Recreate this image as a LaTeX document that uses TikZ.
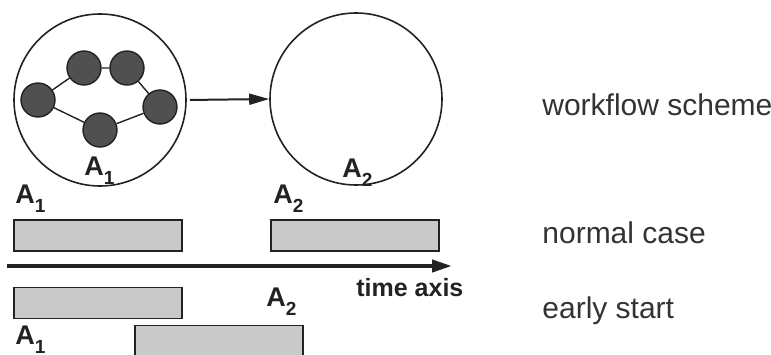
\documentclass[tikz,border=0pt]{standalone}
\usepackage{fontspec}
\setmainfont{Liberation Sans}
\usepackage{tikz}
\usetikzlibrary{arrows.meta,positioning}
\definecolor{ink}{HTML}{222222}
\definecolor{txt}{HTML}{333333}
\definecolor{blob}{HTML}{505050}
\definecolor{barfill}{HTML}{C9C9C9}
\newcommand{\actsub}[1]{\raisebox{-4.5pt}{\fontsize{9.5}{10}\selectfont #1}}
\tikzset{
  scheme/.style={circle, draw=ink, line width=0.8pt, minimum size=86pt,
    inner sep=0pt},
  step node/.style={circle, draw=ink, fill=blob, line width=0.7pt,
    minimum size=17pt, inner sep=0pt},
  link/.style={draw=ink, line width=0.7pt},
  taskbar/.style={rectangle, draw=ink, fill=barfill, line width=0.8pt,
    minimum width=84pt, minimum height=15.5pt, inner sep=0pt},
  actlabel/.style={anchor=base west, inner sep=0pt, text=ink,
    font=\fontsize{13.5}{15}\selectfont\bfseries},
  axislabel/.style={anchor=base west, inner sep=0pt, text=ink,
    font=\fontsize{12.5}{14}\selectfont\bfseries},
  caselabel/.style={anchor=base west, inner sep=0pt, text=txt,
    font=\fontsize{15}{17}\selectfont},
  flowarrow/.style={-{Triangle[length=10pt,width=5.5pt]}, line width=1pt,
    color=ink},
  timearrow/.style={-{Triangle[length=10pt,width=6pt]}, line width=2pt,
    color=ink},
}
\begin{document}
\begin{tikzpicture}[x=0.5pt, y=-0.5pt]
  \useasboundingbox (0,0) rectangle (771,354);
  \clip (0,0) rectangle (771,354);
  % workflow scheme
  \node[scheme] (wf1) at (100,100) {};
  \node[scheme] (wf2) at (356,99) {};
  \draw[flowarrow, shorten <=1.5pt] (wf1.east) -- (wf2.west);
  \node[step node] (s1) at (38,100) {};
  \node[step node] (s2) at (84,68) {};
  \node[step node] (s3) at (127,68) {};
  \node[step node] (s4) at (160,107) {};
  \node[step node] (s5) at (100,130) {};
  \draw[link] (s1) -- (s2) (s2) -- (s3) (s3) -- (s4) (s4) -- (s5) (s5) -- (s1);
  \node[actlabel] (wf1lbl) at (84,175) {A\actsub{1}};
  \node[actlabel] (wf2lbl) at (342,177) {A\actsub{2}};
  % normal case
  \node[actlabel] (na1lbl) at (15,203) {A\actsub{1}};
  \node[actlabel] (na2lbl) at (273,203) {A\actsub{2}};
  \node[taskbar] (na1) at (98,235.5) {};
  \node[taskbar] (na2) at (355,235.5) {};
  % time axis
  \coordinate (t0) at (7,266);
  \coordinate (t1) at (452,266);
  \draw[timearrow] (t0) -- (t1);
  \node[axislabel] (axislbl) at (356,296) {time axis};
  % early start
  \node[taskbar] (ea1) at (98,303) {};
  \node[taskbar] (ea2) at (219,341) {};
  \node[actlabel] (ea2lbl) at (266,306) {A\actsub{2}};
  \node[actlabel] (ea1lbl) at (15,344) {A\actsub{1}};
  % cases
  \node[caselabel] (schemelbl) at (542,115) {workflow scheme};
  \node[caselabel] (normallbl) at (542,243) {normal case};
  \node[caselabel] (earlylbl) at (542,318) {early start};
\end{tikzpicture}
\end{document}
